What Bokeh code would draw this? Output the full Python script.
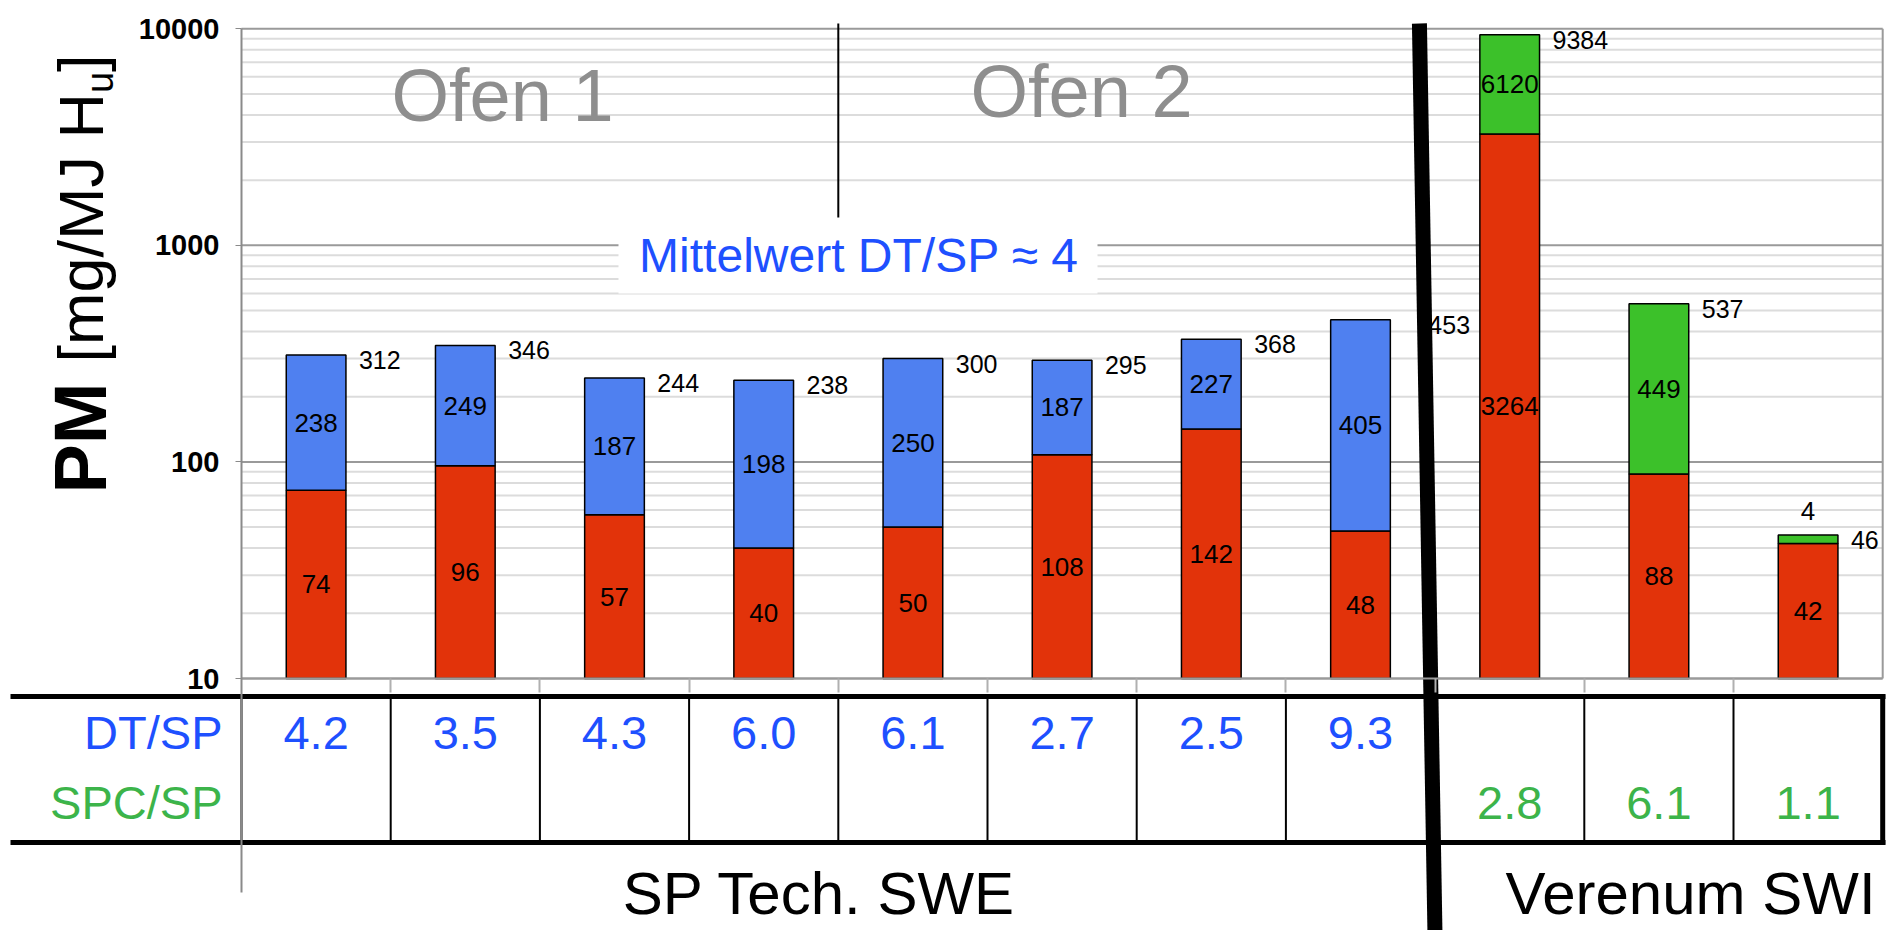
import numpy as np
from bokeh.plotting import figure
from bokeh.models import Range1d, FixedTicker, LinearScale, PrintfTickFormatter
from bokeh.core.properties import value
from bokeh.embed import file_html
from bokeh.resources import INLINE

# ---------------- data ----------------
groups = ["SP Tech. SWE"] * 8 + ["Verenum SWI"] * 3
furnaces = ["Ofen 1"] * 4 + ["Ofen 2"] * 4 + [""] * 3
sp_vals = [74, 96, 57, 40, 50, 108, 142, 48, 3264, 88, 42]          # red
dt_vals = [238, 249, 187, 198, 250, 187, 227, 405, 0, 0, 0]          # blue
spc_vals = [0, 0, 0, 0, 0, 0, 0, 0, 6120, 449, 4]                    # green
totals = [312, 346, 244, 238, 300, 295, 368, 453, 9384, 537, 46]
dt_sp = [4.2, 3.5, 4.3, 6.0, 6.1, 2.7, 2.5, 9.3, None, None, None]
spc_sp = [None] * 8 + [2.8, 6.1, 1.1]
y_ticks = [10, 100, 1000, 10000]
y_minor = [m * 10 ** k for k in range(1, 4) for m in range(2, 10)]
row_labels = ["DT/SP", "SPC/SP"]
mean_text = "Mittelwert DT/SP \u2248 4"

# ---------------- layout constants ----------------
W, H = 1901, 930
CAT_PX = 149.2
LEFT_PX = 241.0
DECADE_PX = 216.57
Y10_PX = 678.0
FONT_NAME = "Liberation Sans"
FONT = value(FONT_NAME)
BLUE_T = "#1e50ff"
GREEN_T = "#3cb44a"
C_RED, C_BLUE, C_GREEN = "#e2330a", "#4f80f0", "#3cc12a"

n = len(sp_vals)
n_sp = groups.count(groups[0])
n_ofen1 = furnaces.count("Ofen 1")
base = y_ticks[0]

def px_to_y(py):
    return 10 ** (np.log10(base) - (py - Y10_PX) / DECADE_PX)

p = figure(width=W, height=H,
           x_range=Range1d(-LEFT_PX / CAT_PX, (W - LEFT_PX) / CAT_PX),
           y_range=Range1d(px_to_y(H), px_to_y(0)),
           y_axis_type="log", output_backend="svg", toolbar_location=None,
           min_border_left=0, min_border_right=0, min_border_top=0, min_border_bottom=0)
p.title.visible = False
p.outline_line_color = None
p.background_fill_color = "white"
p.border_fill_color = "white"
p.extra_x_ranges = {"px": Range1d(0, W)}
p.extra_y_ranges = {"px": Range1d(H, 0)}
p.extra_x_scales = {"px": LinearScale()}
p.extra_y_scales = {"px": LinearScale()}
p.xgrid.visible = False
p.ygrid.visible = False

# ---- y axis inside the frame ----
yax = p.yaxis[0]
yax.fixed_location = 0
yax.ticker = FixedTicker(ticks=y_ticks, minor_ticks=[])
yax.formatter = PrintfTickFormatter(format="%d")
yax.bounds = (px_to_y(892), y_ticks[-1])
yax.axis_line_color = "#8a8a8a"
yax.axis_line_width = 2
yax.major_tick_line_color = "#8a8a8a"
yax.major_tick_out = 6
yax.major_tick_in = 0
yax.minor_tick_line_color = None
yax.major_label_standoff = 16
yax.major_label_text_font = FONT_NAME
yax.major_label_text_font_style = "bold"
yax.major_label_text_font_size = "29px"
yax.major_label_text_color = "black"

# ---- x axis: only category boundary ticks along the base line ----
xax = p.xaxis[0]
xax.fixed_location = base
xax.ticker = FixedTicker(ticks=list(range(1, n)), minor_ticks=[])
xax.bounds = (0, n)
xax.axis_line_color = "#9a9a9a"
xax.axis_line_width = 2
xax.major_tick_line_color = "#b0b0b0"
xax.major_tick_line_width = 2
xax.major_tick_out = 14
xax.major_tick_in = 0
xax.minor_tick_line_color = None
xax.major_label_text_color = None

# ---- grid lines ----
p.segment(x0=[0] * len(y_minor), x1=[n] * len(y_minor), y0=y_minor, y1=y_minor,
          line_color="#dcdcdc", line_width=2)
p.segment(x0=[0] * len(y_ticks), x1=[n] * len(y_ticks), y0=y_ticks, y1=y_ticks,
          line_color="#9a9a9a", line_width=2)
p.segment(x0=[n], x1=[n], y0=[base], y1=[y_ticks[-1]], line_color="#9a9a9a", line_width=2)

# ---- Mittelwert box + Ofen divider ----
p.quad(left=[618], right=[1097], top=[218], bottom=[293], fill_color="white",
       line_color=None, x_range_name="px", y_range_name="px")
p.segment(x0=[n_ofen1], x1=[n_ofen1], y0=[23], y1=[217], line_color="black",
          line_width=2, y_range_name="px")

# ---- stacked bars ----
xc = np.arange(n) + 0.5
sp = np.array(sp_vals, float)
dt = np.array(dt_vals, float)
spc = np.array(spc_vals, float)
BW = 0.4

p.vbar(x=xc, width=BW, bottom=base, top=sp, fill_color=C_RED, line_color="black", line_width=1.5)
m = dt > 0
p.vbar(x=xc[m], width=BW, bottom=sp[m], top=(sp + dt)[m], fill_color=C_BLUE,
       line_color="black", line_width=1.5)
m = spc > 0
p.vbar(x=xc[m], width=BW, bottom=sp[m], top=(sp + spc)[m], fill_color=C_GREEN,
       line_color="black", line_width=1.5)

# ---- segment labels ----
lx, ly, lt, lo = [], [], [], []
for bottoms, tops, vals in [(np.full(n, base), sp, sp), (sp, sp + dt, dt), (sp, sp + spc, spc)]:
    for i in range(n):
        if vals[i] <= 0:
            continue
        h = np.log10(tops[i] / bottoms[i]) * DECADE_PX
        lx.append(xc[i])
        lt.append(f"{int(vals[i])}")
        if h >= 22:
            ly.append(np.sqrt(bottoms[i] * tops[i]))
            lo.append(0)
        else:
            ly.append(tops[i])
            lo.append(-24)
p.text(x=lx, y=ly, text=lt, y_offset=lo, text_align="center", text_baseline="middle",
       text_font=FONT, text_font_size="26px", text_color="black")

# ---- total labels ----
tops_all = sp + dt + spc
tx_off = [13] * n
tx_off[n_sp - 1] = 38
p.text(x=xc + BW / 2, y=tops_all, text=[str(t) for t in totals], x_offset=tx_off, y_offset=5,
       text_align="left", text_baseline="middle", text_font=FONT, text_font_size="25px",
       text_color="black")

# ---- annotations in px space ----
p.text(x=[502, 1081], y=[94.5, 90.5], text=["Ofen 1", "Ofen 2"], x_range_name="px",
       y_range_name="px", text_align="center", text_baseline="middle", text_font=FONT,
       text_font_size="74px", text_color="#8e8e8e")
p.text(x=[858.5], y=[254.5], text=[mean_text], x_range_name="px", y_range_name="px",
       text_align="center", text_baseline="middle", text_font=FONT,
       text_font_size="48px", text_color=BLUE_T)

# ---- table ----
p.segment(x0=[10, 10], x1=[1885, 1885], y0=[696, 842], y1=[696, 842], line_color="black",
          line_width=5, x_range_name="px", y_range_name="px")
p.segment(x0=list(range(n)), x1=list(range(n)), y0=[696] * n, y1=[842] * n,
          line_color="black", line_width=2, y_range_name="px")
p.segment(x0=[n], x1=[n], y0=[694], y1=[844], line_color="black", line_width=5,
          y_range_name="px")
p.text(x=[222, 222], y=[732, 802], text=row_labels, x_range_name="px", y_range_name="px",
       text_align="right", text_baseline="middle", text_font=FONT, text_font_size="47px",
       text_color=[BLUE_T, GREEN_T])
i1 = [i for i in range(n) if dt_sp[i] is not None]
p.text(x=xc[i1], y=[732] * len(i1), text=[f"{dt_sp[i]:.1f}" for i in i1], y_range_name="px",
       text_align="center", text_baseline="middle", text_font=FONT, text_font_size="47px",
       text_color=BLUE_T)
i2 = [i for i in range(n) if spc_sp[i] is not None]
p.text(x=xc[i2], y=[802] * len(i2), text=[f"{spc_sp[i]:.1f}" for i in i2], y_range_name="px",
       text_align="center", text_baseline="middle", text_font=FONT, text_font_size="47px",
       text_color=GREEN_T)

# ---- group labels ----
p.text(x=[819, 1690], y=[893, 893], text=[groups[0], groups[-1]], x_range_name="px",
       y_range_name="px", text_align="center", text_baseline="middle", text_font=FONT,
       text_font_size="60px", text_color="black")

# ---- y axis title (rotated pieces) ----
p.text(x=[80], y=[493], text=["PM"], angle=np.pi / 2, x_range_name="px", y_range_name="px",
       text_align="left", text_baseline="middle", text_font=FONT, text_font_style="bold",
       text_font_size="74px", text_color="black")
p.text(x=[80], y=[362], text=["[mg/MJ H"], angle=np.pi / 2, x_range_name="px",
       y_range_name="px", text_align="left", text_baseline="middle", text_font=FONT,
       text_font_size="63px", text_color="black")
p.text(x=[99], y=[92.5], text=["u"], angle=np.pi / 2, x_range_name="px", y_range_name="px",
       text_align="left", text_baseline="middle", text_font=FONT,
       text_font_size="38px", text_color="black")
p.text(x=[80], y=[71.5], text=["]"], angle=np.pi / 2, x_range_name="px", y_range_name="px",
       text_align="left", text_baseline="middle", text_font=FONT,
       text_font_size="63px", text_color="black")

# ---- thick group separator ----
p.segment(x0=[n_sp - 0.105], x1=[n_sp], y0=[23], y1=[940], line_color="black",
          line_width=15, y_range_name="px")

open("out.html", "w").write(file_html(p, INLINE))
